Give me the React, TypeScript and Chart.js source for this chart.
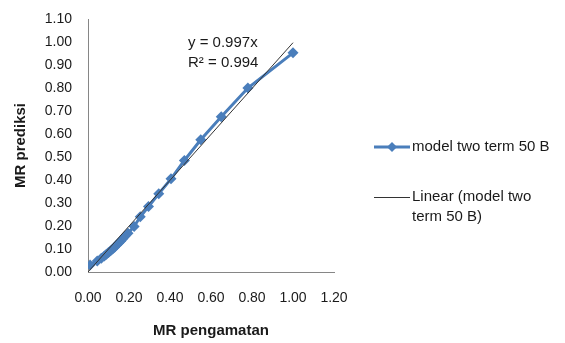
import React, { useEffect, useRef } from "react";
import { Chart, registerables } from "chart.js";

Chart.register(...registerables);

// Observed (x) and predicted (y) moisture ratio values
const mrPengamatan = [1.0, 0.78, 0.65, 0.55, 0.47, 0.405, 0.345, 0.295, 0.255, 0.225, 0.195, 0.18, 0.17, 0.16, 0.15, 0.14, 0.13, 0.12, 0.11, 0.1, 0.09, 0.08, 0.065, 0.045, 0.01];
const mrPrediksi = [0.953, 0.8, 0.675, 0.575, 0.485, 0.405, 0.34, 0.285, 0.24, 0.198, 0.168, 0.155, 0.145, 0.135, 0.126, 0.117, 0.108, 0.1, 0.092, 0.085, 0.077, 0.07, 0.06, 0.048, 0.03];
const trendSlope = 0.997;
const trendR2 = 0.994;
const seriesLabel = "model two term 50 B";
const trendLabelLines = ["Linear (model two", "term 50 B)"];
const xTitle = "MR pengamatan";
const yTitle = "MR prediksi";

const FONT = "'Liberation Sans', Arial, sans-serif";
const BLUE = "#4A7EBB";
const TREND = "#333333";

export default function App() {
  const ref = useRef<HTMLCanvasElement>(null);
  useEffect(() => {
    if (!ref.current) return;
    const pts = mrPengamatan.map((x, i) => ({ x, y: mrPrediksi[i] }));
    const xMax = Math.max(...mrPengamatan);
    const trendPts = [
      { x: 0, y: 0 },
      { x: xMax, y: trendSlope * xMax },
    ];

    const overlay = {
      id: "overlay",
      afterDraw(chart: any) {
        const ctx = chart.ctx as CanvasRenderingContext2D;
        ctx.save();
        ctx.font = `15px ${FONT}`;
        ctx.fillStyle = "#1a1a1a";
        ctx.textBaseline = "middle";
        ctx.textAlign = "left";
        // equation
        ctx.fillText(`y = ${trendSlope.toFixed(3)}x`, 188, 43);
        ctx.fillText(`R² = ${trendR2.toFixed(3)}`, 188, 63);
        // legend entry 1
        ctx.strokeStyle = BLUE;
        ctx.lineWidth = 3;
        ctx.beginPath();
        ctx.moveTo(374, 147);
        ctx.lineTo(410, 147);
        ctx.stroke();
        ctx.fillStyle = BLUE;
        ctx.beginPath();
        ctx.moveTo(392, 142);
        ctx.lineTo(397, 147);
        ctx.lineTo(392, 152);
        ctx.lineTo(387, 147);
        ctx.closePath();
        ctx.fill();
        ctx.fillStyle = "#1a1a1a";
        ctx.fillText(seriesLabel, 412, 147);
        // legend entry 2
        ctx.strokeStyle = TREND;
        ctx.lineWidth = 1;
        ctx.beginPath();
        ctx.moveTo(374, 197.5);
        ctx.lineTo(410, 197.5);
        ctx.stroke();
        ctx.fillText(trendLabelLines[0], 412, 197);
        ctx.fillText(trendLabelLines[1], 412, 217);
        ctx.restore();
      },
    };

    const chart = new Chart(ref.current, {
      type: "scatter",
      data: {
        datasets: [
          {
            label: trendLabelLines.join(" "),
            data: trendPts,
            showLine: true,
            borderColor: TREND,
            borderWidth: 1,
            pointRadius: 0,
            order: 0,
          },
          {
            label: seriesLabel,
            data: pts,
            showLine: true,
            borderColor: BLUE,
            backgroundColor: BLUE,
            borderWidth: 3,
            pointStyle: "rectRot",
            pointRadius: 5.5,
            pointBorderWidth: 0,
            order: 1,
          },
        ],
      },
      options: {
        animation: false,
        responsive: true,
        maintainAspectRatio: false,
        layout: { padding: { left: 0, right: 231, top: 19, bottom: 0 } },
        plugins: { legend: { display: false }, tooltip: { enabled: false } },
        scales: {
          x: {
            type: "linear",
            min: 0,
            max: 1.2,
            afterFit: (s: any) => {
              s.height = 71;
              s.paddingLeft = 0;
              s.paddingRight = 0;
            },
            grid: { display: false, drawTicks: false },
            border: { display: true, color: "#868686", width: 1 },
            ticks: {
              stepSize: 0.2,
              padding: 18,
              color: "#1a1a1a",
              font: { family: FONT, size: 14 },
              callback: (v: any) => Number(v).toFixed(2),
            },
            title: {
              display: true,
              text: xTitle,
              color: "#1a1a1a",
              font: { family: FONT, size: 15, weight: "bold" },
              padding: { top: 0, bottom: 3 },
            },
          },
          y: {
            type: "linear",
            min: 0,
            max: 1.1,
            afterFit: (s: any) => {
              s.width = 88;
              s.paddingTop = 0;
              s.paddingBottom = 0;
            },
            grid: { display: false, drawTicks: false },
            border: { display: true, color: "#868686", width: 1 },
            ticks: {
              stepSize: 0.1,
              padding: 16,
              color: "#1a1a1a",
              font: { family: FONT, size: 14 },
              callback: (v: any) => Number(v).toFixed(2),
            },
            title: {
              display: true,
              text: yTitle,
              color: "#1a1a1a",
              font: { family: FONT, size: 15, weight: "bold" },
              padding: { top: 12, bottom: 0 },
            },
          },
        },
      },
      plugins: [overlay],
    });
    return () => chart.destroy();
  }, []);

  return (
    <div style={{ position: "fixed", top: 0, left: 0, width: 565, height: 343, background: "#fff" }}>
      <canvas ref={ref} />
    </div>
  );
}
